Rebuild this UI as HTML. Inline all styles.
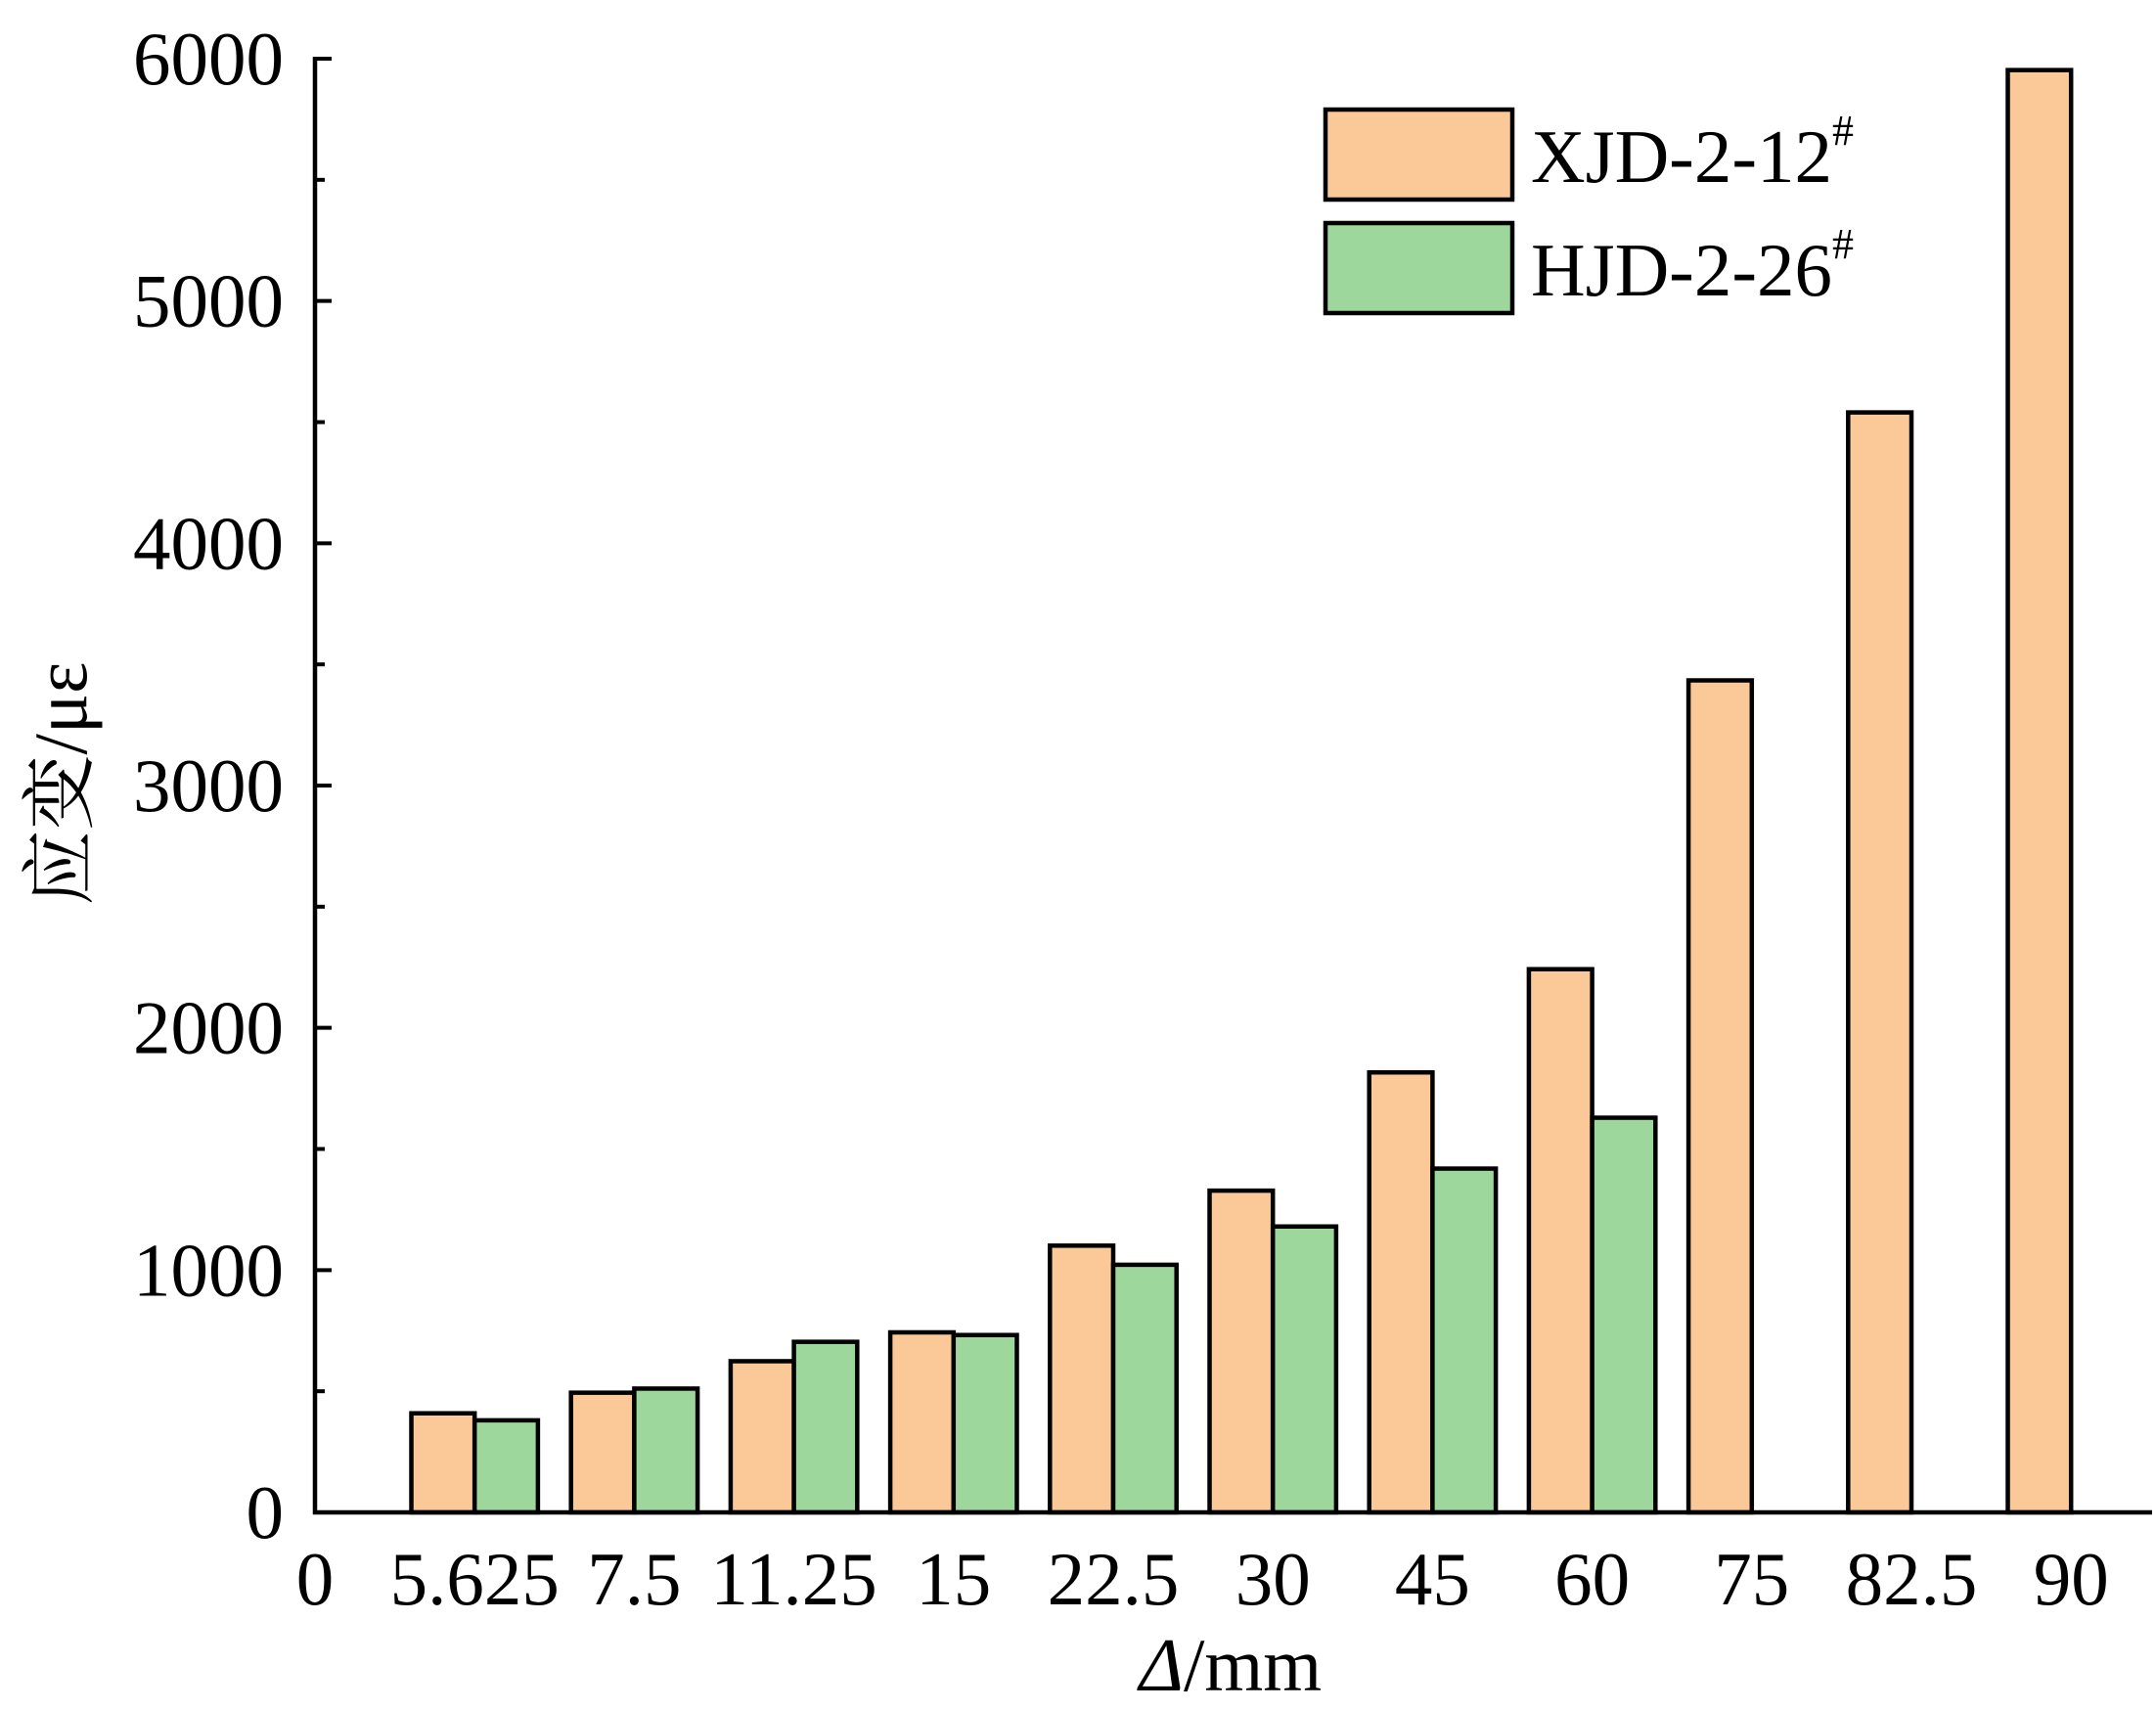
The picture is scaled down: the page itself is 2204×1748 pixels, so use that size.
<!DOCTYPE html>
<html><head><meta charset="utf-8"><style>body{margin:0;background:#fff}svg{display:block}</style></head>
<body>
<svg id="chart" width="2204" height="1748" viewBox="0 0 2204 1748" xmlns="http://www.w3.org/2000/svg" font-family="'Liberation Serif','Noto Serif CJK SC',serif"></svg>
<script>
const categories = ["5.625","7.5","11.25","15","22.5","30","45","60","75","82.5","90"];
const seriesXJD = [409,494,624,743,1101,1328,1816,2242,3434,4540,5953];
const seriesHJD = [380,511,704,732,1022,1180,1419,1629,null,null,null];
const yTicks = [0,1000,2000,3000,4000,5000,6000];
const NS="http://www.w3.org/2000/svg";
const svg=document.getElementById('chart');
const X0=322, Y0=1546, YTOP=60, XR=2200, STEP=163.2, BW=64.7, FS=77;
const yS=v=>Y0-(v/6000)*(Y0-YTOP);
const xS=i=>X0+STEP*(i+1);
function mk(t,a,p){const e=document.createElementNS(NS,t);for(const k in a)e.setAttribute(k,a[k]);(p||svg).appendChild(e);return e;}
categories.forEach((c,i)=>{
  const cx=xS(i);
  if(seriesXJD[i]!=null){const r=mk('rect',{x:cx-BW,y:yS(seriesXJD[i]),width:BW,height:Y0-yS(seriesXJD[i]),fill:'#FBC897',stroke:'#000','stroke-width':4.5});
    
    }
  if(seriesHJD[i]!=null){const r=mk('rect',{x:cx,y:yS(seriesHJD[i]),width:BW,height:Y0-yS(seriesHJD[i]),fill:'#9ED79B',stroke:'#000','stroke-width':4.5});
    
    }
  const t=mk('text',{x:cx,y:1640,'font-size':FS,'text-anchor':'middle'});t.textContent=c;
  
  
});
const t0=mk('text',{x:X0,y:1640,'font-size':FS,'text-anchor':'middle'});t0.textContent='0';


const ax=mk('path',{d:`M${X0} ${YTOP-2} V${Y0} H${XR}`,fill:'none',stroke:'#000','stroke-width':4.5});


for(let v=0;v<=6000;v+=500){
  const major=v%1000===0;
  mk('line',{x1:X0,x2:X0+(major?17:10),y1:yS(v),y2:yS(v),stroke:'#000','stroke-width':4});
}
yTicks.forEach(v=>{const t=mk('text',{x:290,y:yS(v)+26,'font-size':FS,'text-anchor':'end'});t.textContent=v;
  
  });
const xt=mk('text',{x:1258,y:1728,'font-size':FS,'text-anchor':'middle'});
xt.innerHTML='<tspan font-style="italic">Δ</tspan>/mm';


const yt=mk('text',{x:0,y:0,'font-size':FS,'text-anchor':'middle',transform:'translate(88 801) rotate(-90)'});
yt.textContent='应变/με';


const lg=mk('g',{});


[['#FBC897','XJD-2-12',112],['#9ED79B','HJD-2-26',228]].forEach(([col,lab,y])=>{
  mk('rect',{x:1355,y:y,width:191,height:92,fill:col,stroke:'#000','stroke-width':4.5},lg);
  const t=mk('text',{x:1565,y:y+74,'font-size':FS},lg);
  t.innerHTML=lab+'<tspan font-size="44" dy="-38">#</tspan>';
  
  
});
</script>
</body></html>
